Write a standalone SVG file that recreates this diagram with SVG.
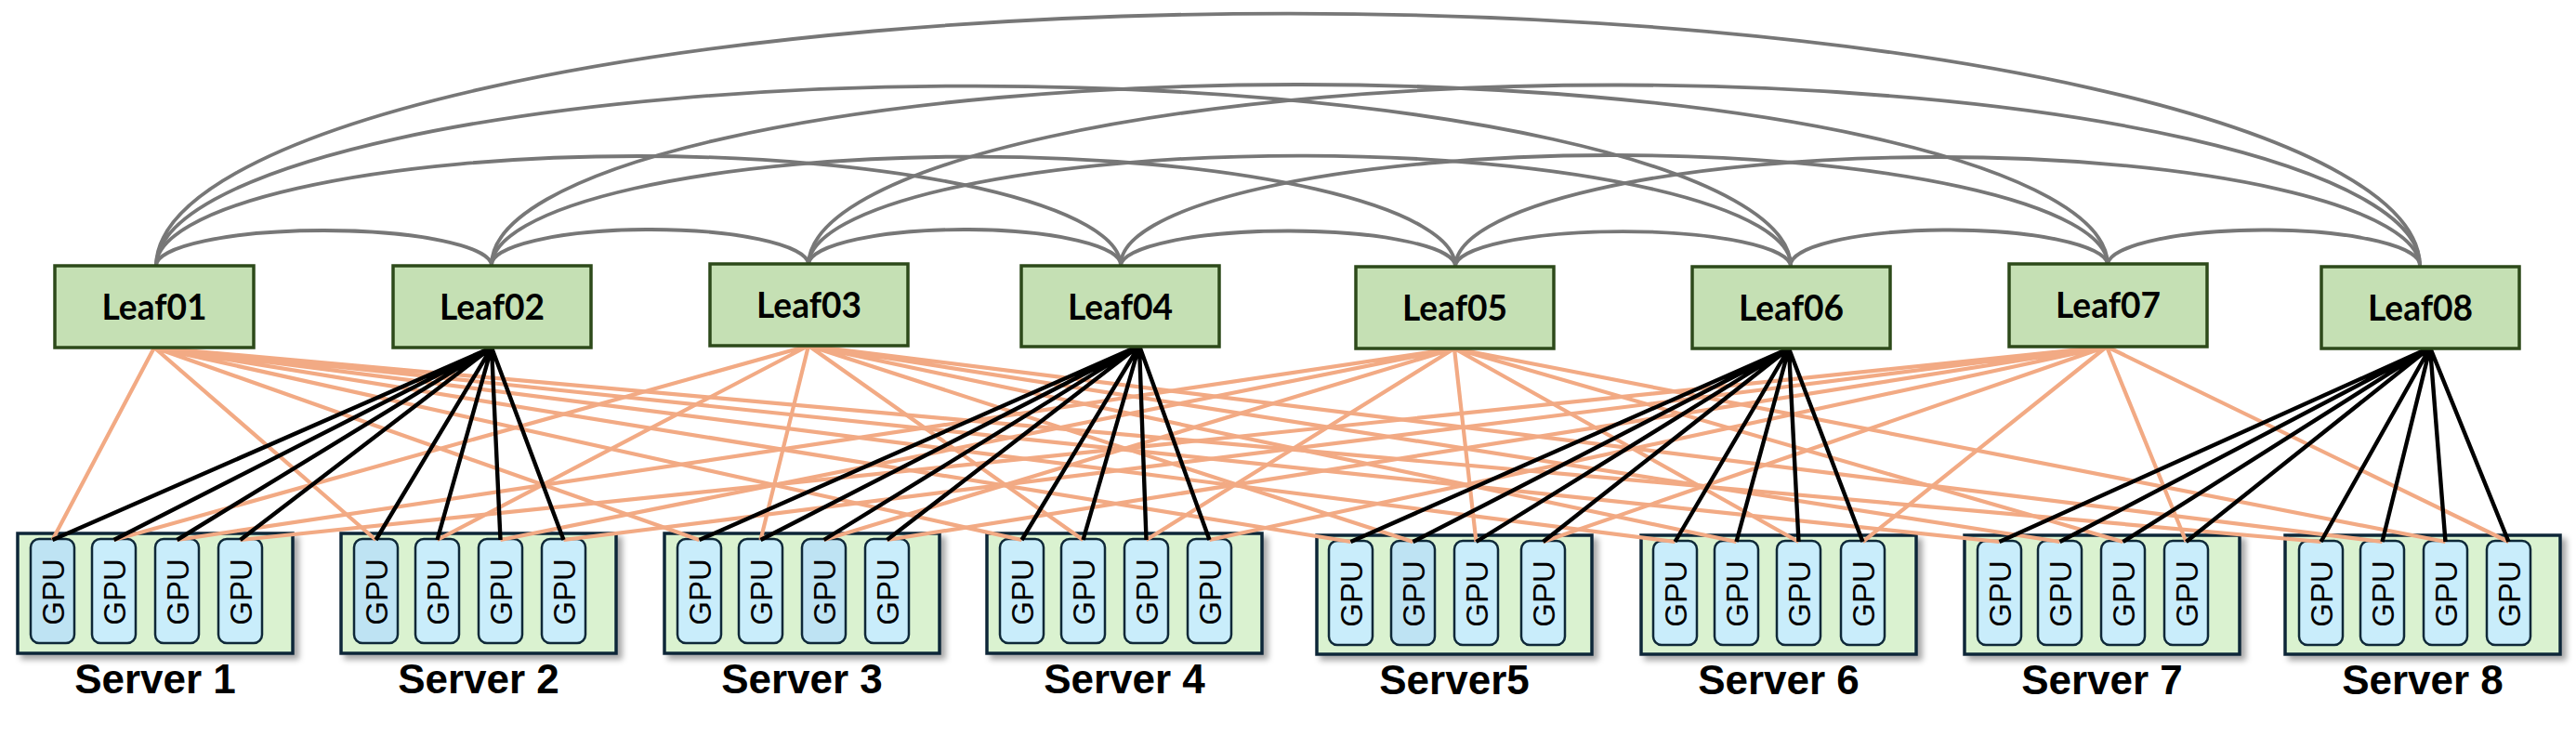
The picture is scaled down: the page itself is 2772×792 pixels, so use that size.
<svg xmlns="http://www.w3.org/2000/svg" width="2772" height="792" viewBox="0 0 2772 792">
<defs>
<filter id="sh" x="-10%" y="-10%" width="125%" height="130%">
<feDropShadow dx="5" dy="5" stdDeviation="3" flood-color="#000" flood-opacity="0.35"/>
</filter>
<style>
.leaf rect{fill:#c5e0b4;stroke:#2d4a1a;stroke-width:3.5}
.leaf text{font-family:Lato,"Liberation Sans",sans-serif;font-weight:700;font-size:39px;fill:#000;text-anchor:middle}
.srv{fill:#daf2d0;stroke:#0e2838;stroke-width:3.5}
.gpu{fill:#c9edfb;stroke:#0e2838;stroke-width:2.5}
.gpu.d{fill:#bee3f3}
.gt{font-family:"Liberation Sans",Arial,sans-serif;font-size:33px;fill:#000;text-anchor:middle}
.sl{font-family:"Liberation Sans",Arial,sans-serif;font-weight:700;font-size:44px;fill:#000;text-anchor:middle}
.arc{fill:none;stroke:#777;stroke-width:3.8}
.o{stroke:#f2aa84;stroke-width:4.2;fill:none}
.b{stroke:#000;stroke-width:4.4;fill:none}
</style>
</defs>
<rect width="2772" height="792" fill="#fff"/>

<g id="server1">
<rect class="srv" x="19" y="574" width="296" height="129" filter="url(#sh)"/>
<rect class="gpu d" x="33" y="580" width="47" height="112" rx="9"/>
<rect class="gpu" x="99" y="580" width="47" height="112" rx="9"/>
<rect class="gpu" x="167" y="580" width="47" height="112" rx="9"/>
<rect class="gpu" x="235" y="580" width="47" height="112" rx="9"/>
<text class="gt" transform="translate(56.5,637) rotate(-90)" y="12">GPU</text>
<text class="gt" transform="translate(122.5,637) rotate(-90)" y="12">GPU</text>
<text class="gt" transform="translate(190.5,637) rotate(-90)" y="12">GPU</text>
<text class="gt" transform="translate(258.5,637) rotate(-90)" y="12">GPU</text>
<text class="sl" x="167" y="746">Server 1</text>
</g>
<g id="server2">
<rect class="srv" x="367" y="574" width="296" height="129" filter="url(#sh)"/>
<rect class="gpu d" x="381" y="580" width="47" height="112" rx="9"/>
<rect class="gpu" x="447" y="580" width="47" height="112" rx="9"/>
<rect class="gpu" x="515" y="580" width="47" height="112" rx="9"/>
<rect class="gpu" x="583" y="580" width="47" height="112" rx="9"/>
<text class="gt" transform="translate(404.5,637) rotate(-90)" y="12">GPU</text>
<text class="gt" transform="translate(470.5,637) rotate(-90)" y="12">GPU</text>
<text class="gt" transform="translate(538.5,637) rotate(-90)" y="12">GPU</text>
<text class="gt" transform="translate(606.5,637) rotate(-90)" y="12">GPU</text>
<text class="sl" x="515" y="746">Server 2</text>
</g>
<g id="server3">
<rect class="srv" x="715" y="574" width="296" height="129" filter="url(#sh)"/>
<rect class="gpu" x="729" y="580" width="47" height="112" rx="9"/>
<rect class="gpu" x="795" y="580" width="47" height="112" rx="9"/>
<rect class="gpu d" x="863" y="580" width="47" height="112" rx="9"/>
<rect class="gpu" x="931" y="580" width="47" height="112" rx="9"/>
<text class="gt" transform="translate(752.5,637) rotate(-90)" y="12">GPU</text>
<text class="gt" transform="translate(818.5,637) rotate(-90)" y="12">GPU</text>
<text class="gt" transform="translate(886.5,637) rotate(-90)" y="12">GPU</text>
<text class="gt" transform="translate(954.5,637) rotate(-90)" y="12">GPU</text>
<text class="sl" x="863" y="746">Server 3</text>
</g>
<g id="server4">
<rect class="srv" x="1062" y="574" width="296" height="129" filter="url(#sh)"/>
<rect class="gpu" x="1076" y="580" width="47" height="112" rx="9"/>
<rect class="gpu" x="1142" y="580" width="47" height="112" rx="9"/>
<rect class="gpu" x="1210" y="580" width="47" height="112" rx="9"/>
<rect class="gpu" x="1278" y="580" width="47" height="112" rx="9"/>
<text class="gt" transform="translate(1099.5,637) rotate(-90)" y="12">GPU</text>
<text class="gt" transform="translate(1165.5,637) rotate(-90)" y="12">GPU</text>
<text class="gt" transform="translate(1233.5,637) rotate(-90)" y="12">GPU</text>
<text class="gt" transform="translate(1301.5,637) rotate(-90)" y="12">GPU</text>
<text class="sl" x="1210" y="746">Server 4</text>
</g>
<g id="server5">
<rect class="srv" x="1417" y="576" width="296" height="128" filter="url(#sh)"/>
<rect class="gpu" x="1430" y="582" width="47" height="112" rx="9"/>
<rect class="gpu d" x="1497" y="582" width="47" height="112" rx="9"/>
<rect class="gpu" x="1565" y="582" width="47" height="112" rx="9"/>
<rect class="gpu" x="1637" y="582" width="47" height="112" rx="9"/>
<text class="gt" transform="translate(1453.5,639) rotate(-90)" y="12">GPU</text>
<text class="gt" transform="translate(1520.5,639) rotate(-90)" y="12">GPU</text>
<text class="gt" transform="translate(1588.5,639) rotate(-90)" y="12">GPU</text>
<text class="gt" transform="translate(1660.5,639) rotate(-90)" y="12">GPU</text>
<text class="sl" x="1565" y="747">Server5</text>
</g>
<g id="server6">
<rect class="srv" x="1766" y="576" width="296" height="128" filter="url(#sh)"/>
<rect class="gpu" x="1779" y="582" width="47" height="112" rx="9"/>
<rect class="gpu" x="1845" y="582" width="47" height="112" rx="9"/>
<rect class="gpu" x="1912" y="582" width="47" height="112" rx="9"/>
<rect class="gpu" x="1981" y="582" width="47" height="112" rx="9"/>
<text class="gt" transform="translate(1802.5,639) rotate(-90)" y="12">GPU</text>
<text class="gt" transform="translate(1868.5,639) rotate(-90)" y="12">GPU</text>
<text class="gt" transform="translate(1935.5,639) rotate(-90)" y="12">GPU</text>
<text class="gt" transform="translate(2004.5,639) rotate(-90)" y="12">GPU</text>
<text class="sl" x="1914" y="747">Server 6</text>
</g>
<g id="server7">
<rect class="srv" x="2114" y="576" width="296" height="128" filter="url(#sh)"/>
<rect class="gpu" x="2128" y="582" width="47" height="112" rx="9"/>
<rect class="gpu" x="2193" y="582" width="47" height="112" rx="9"/>
<rect class="gpu" x="2261" y="582" width="47" height="112" rx="9"/>
<rect class="gpu" x="2329" y="582" width="47" height="112" rx="9"/>
<text class="gt" transform="translate(2151.5,639) rotate(-90)" y="12">GPU</text>
<text class="gt" transform="translate(2216.5,639) rotate(-90)" y="12">GPU</text>
<text class="gt" transform="translate(2284.5,639) rotate(-90)" y="12">GPU</text>
<text class="gt" transform="translate(2352.5,639) rotate(-90)" y="12">GPU</text>
<text class="sl" x="2262" y="747">Server 7</text>
</g>
<g id="server8">
<rect class="srv" x="2459" y="576" width="296" height="128" filter="url(#sh)"/>
<rect class="gpu" x="2474" y="582" width="47" height="112" rx="9"/>
<rect class="gpu" x="2540" y="582" width="47" height="112" rx="9"/>
<rect class="gpu" x="2608" y="582" width="47" height="112" rx="9"/>
<rect class="gpu" x="2676" y="582" width="47" height="112" rx="9"/>
<text class="gt" transform="translate(2497.5,639) rotate(-90)" y="12">GPU</text>
<text class="gt" transform="translate(2563.5,639) rotate(-90)" y="12">GPU</text>
<text class="gt" transform="translate(2631.5,639) rotate(-90)" y="12">GPU</text>
<text class="gt" transform="translate(2699.5,639) rotate(-90)" y="12">GPU</text>
<text class="sl" x="2607" y="747">Server 8</text>
</g>

<g id="connectors">
<g id="leaf-arcs">
<path class="arc" d="M168 286 A180.5 38 0 0 1 529 286"/>
<path class="arc" d="M529 286 A170.5 38 0 0 1 870 284"/>
<path class="arc" d="M870 284 A168 38 0 0 1 1206 286"/>
<path class="arc" d="M1206 286 A180 38 0 0 1 1566 287"/>
<path class="arc" d="M1566 287 A180.5 38 0 0 1 1927 287"/>
<path class="arc" d="M1927 287 A170.5 38 0 0 1 2268 284"/>
<path class="arc" d="M2268 284 A168 38 0 0 1 2604 287"/>
<path class="arc" d="M168 286 A519 118 0 0 1 1206 286"/>
<path class="arc" d="M529 286 A518.5 118 0 0 1 1566 287"/>
<path class="arc" d="M870 284 A528.5 118 0 0 1 1927 287"/>
<path class="arc" d="M1206 286 A531 118 0 0 1 2268 284"/>
<path class="arc" d="M1566 287 A519 118 0 0 1 2604 287"/>
<path class="arc" d="M168 286 A879.5 194 0 0 1 1927 287"/>
<path class="arc" d="M529 286 A869.5 194 0 0 1 2268 284"/>
<path class="arc" d="M870 284 A867 194 0 0 1 2604 287"/>
<path class="arc" d="M168 286 A1218 272 0 0 1 2604 287"/>
</g>
<g id="orange-links">
<path class="o" d="M166 374L56.5 581M166 374L404.5 581M166 374L752.5 581M166 374L1099.5 581M166 374L1453.5 583M166 374L1802.5 583M166 374L2151.5 583M166 374L2497.5 583"/>
<path class="o" d="M870 372L122.5 581M870 372L470.5 581M870 372L818.5 581M870 372L1165.5 581M870 372L1520.5 583M870 372L1868.5 583M870 372L2216.5 583M870 372L2563.5 583"/>
<path class="o" d="M1565 375L190.5 581M1565 375L538.5 581M1565 375L886.5 581M1565 375L1233.5 581M1565 375L1588.5 583M1565 375L1935.5 583M1565 375L2284.5 583M1565 375L2631.5 583"/>
<path class="o" d="M2267 373L258.5 581M2267 373L606.5 581M2267 373L954.5 581M2267 373L1301.5 581M2267 373L1660.5 583M2267 373L2004.5 583M2267 373L2352.5 583M2267 373L2699.5 583"/>
</g>
<g id="black-links">
<path class="b" d="M529 374L56.5 581M529 374L122.5 581M529 374L190.5 581M529 374L258.5 581M529 374L404.5 581M529 374L470.5 581M529 374L538.5 581M529 374L606.5 581"/>
<path class="b" d="M1226 372L752.5 581M1226 372L818.5 581M1226 372L886.5 581M1226 372L954.5 581M1226 372L1099.5 581M1226 372L1165.5 581M1226 372L1233.5 581M1226 372L1301.5 581"/>
<path class="b" d="M1925 375L1453.5 583M1925 375L1520.5 583M1925 375L1588.5 583M1925 375L1660.5 583M1925 375L1802.5 583M1925 375L1868.5 583M1925 375L1935.5 583M1925 375L2004.5 583"/>
<path class="b" d="M2615 374L2151.5 583M2615 374L2216.5 583M2615 374L2284.5 583M2615 374L2352.5 583M2615 374L2497.5 583M2615 374L2563.5 583M2615 374L2631.5 583M2615 374L2699.5 583"/>
</g>
</g>

<g id="leaf01" class="leaf"><rect x="59" y="286" width="214" height="88"/><text x="166" y="344" textLength="113" lengthAdjust="spacingAndGlyphs">Leaf01</text></g>
<g id="leaf02" class="leaf"><rect x="423" y="286" width="213" height="88"/><text x="529.5" y="344" textLength="113" lengthAdjust="spacingAndGlyphs">Leaf02</text></g>
<g id="leaf03" class="leaf"><rect x="764" y="284" width="213" height="88"/><text x="870.5" y="342" textLength="113" lengthAdjust="spacingAndGlyphs">Leaf03</text></g>
<g id="leaf04" class="leaf"><rect x="1099" y="286" width="213" height="87"/><text x="1205.5" y="344" textLength="113" lengthAdjust="spacingAndGlyphs">Leaf04</text></g>
<g id="leaf05" class="leaf"><rect x="1459" y="287" width="213" height="88"/><text x="1565.5" y="345" textLength="113" lengthAdjust="spacingAndGlyphs">Leaf05</text></g>
<g id="leaf06" class="leaf"><rect x="1821" y="287" width="213" height="88"/><text x="1927.5" y="345" textLength="113" lengthAdjust="spacingAndGlyphs">Leaf06</text></g>
<g id="leaf07" class="leaf"><rect x="2162" y="284" width="213" height="89"/><text x="2268.5" y="342" textLength="113" lengthAdjust="spacingAndGlyphs">Leaf07</text></g>
<g id="leaf08" class="leaf"><rect x="2498" y="287" width="213" height="88"/><text x="2604.5" y="345" textLength="113" lengthAdjust="spacingAndGlyphs">Leaf08</text></g>
</svg>
